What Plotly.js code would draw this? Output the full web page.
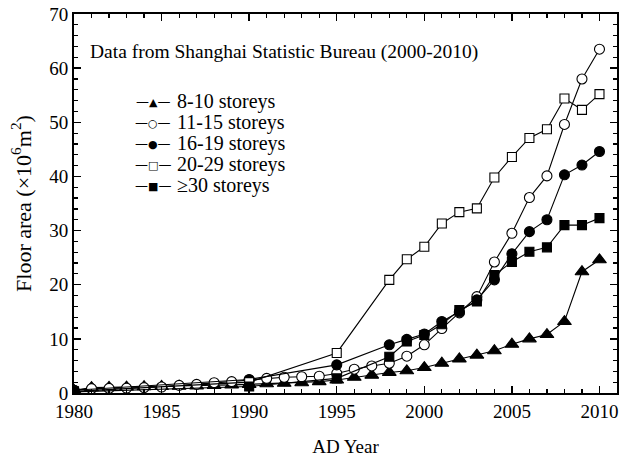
<!DOCTYPE html>
<html>
<head>
<meta charset="utf-8">
<script src="https://cdn.plot.ly/plotly-3.0.1.min.js"></script>
<style>html,body{margin:0;padding:0;background:#fff}</style>
</head>
<body>
<div id="chart" style="width:621px;height:463px"></div>
<script>
// Annual series
const yearsAnnual = [1980,1981,1982,1983,1984,1985,1986,1987,1988,1989,1990,1991,1992,1993,1994,1995,1996,1997,1998,1999,2000,2001,2002,2003,2004,2005,2006,2007,2008,2009,2010];
const s8_10 = [0.5,1.0,1.05,1.1,1.15,1.2,1.25,1.3,1.4,1.5,1.6,1.7,1.8,1.9,2.1,2.4,2.9,3.3,3.8,4.1,4.7,5.5,6.3,7.0,7.8,9.0,10.0,10.8,13.2,22.4,24.6];
const s11_15 = [0.5,0.8,0.85,0.9,1.0,1.1,1.4,1.6,1.9,2.1,2.4,2.7,2.9,3.0,3.1,3.6,4.4,5.0,5.5,6.8,8.9,11.9,14.8,17.8,24.2,29.5,36.1,40.1,49.6,58.0,63.5];
// Sparse series
const yearsSparse = [1980,1990,1995,1998,1999,2000,2001,2002,2003,2004,2005,2006,2007,2008,2009,2010];
const s16_19 = [0.5,2.5,5.2,8.9,9.9,10.9,13.2,15.0,17.2,20.9,25.7,29.8,32.0,40.3,42.1,44.6];
const s20_29 = [0.3,2.0,7.4,20.9,24.7,27.0,31.3,33.4,34.1,39.8,43.6,47.1,48.7,54.4,52.3,55.2];
const s30plus = [0.2,1.2,2.7,6.7,9.5,10.7,12.7,15.3,16.9,21.8,24.2,26.1,26.9,31.0,31.0,32.3];

const seriesNames = ['8-10 storeys','11-15 storeys','16-19 storeys','20-29 storeys','\u226530 storeys'];
const legendGlyphs = ['\u25B2','\u25CB','\u25CF','\u25A1','\u25A0'];
const xTickVals = [1980,1985,1990,1995,2000,2005,2010];
const yTickVals = [0,10,20,30,40,50,60,70];

const FONT = 'Liberation Serif, Times New Roman, serif';
function tr(x, y, name, symbol, fill, size) {
  return {
    x: x, y: y, name: name, type: 'scatter', mode: 'lines+markers',
    line: {color: '#000', width: 1.1},
    marker: {symbol: symbol, size: size, color: fill, line: {color: '#000', width: 1.1}}
  };
}
const data = [
  tr(yearsAnnual, s8_10, seriesNames[0], 'triangle-up', '#000', 12),
  tr(yearsAnnual, s11_15, seriesNames[1], 'circle', '#fff', 10),
  tr(yearsSparse, s16_19, seriesNames[2], 'circle', '#000', 10),
  tr(yearsSparse, s20_29, seriesNames[3], 'square', '#fff', 9),
  tr(yearsSparse, s30plus, seriesNames[4], 'square', '#000', 9)
];

// Legend drawn as text rows (tight row spacing like the reference)
const annotations = [{
  text: 'Data from Shanghai Statistic Bureau (2000-2010)',
  xref: 'paper', yref: 'paper', x: 0.026, y: 0.90, xanchor: 'left', yanchor: 'middle',
  showarrow: false, font: {family: FONT, size: 19.5}
}];
const rowTop = 0.769, rowStep = 0.0556;
seriesNames.forEach(function(n, i) {
  const y = rowTop - i * rowStep;
  annotations.push({
    text: '\u2014<span style="font-size:11px">' + legendGlyphs[i] + '</span>\u2014',
    xref: 'paper', yref: 'paper', x: 0.1455, y: y, xanchor: 'center', yanchor: 'middle',
    showarrow: false, font: {family: 'DejaVu Sans, sans-serif', size: 13}
  });
  annotations.push({
    text: n,
    xref: 'paper', yref: 'paper', x: 0.186, y: y, xanchor: 'left', yanchor: 'middle',
    showarrow: false, font: {family: FONT, size: 20}
  });
});

const layout = {
  width: 621, height: 463,
  margin: {l: 74, r: 4, t: 14, b: 70},
  paper_bgcolor: '#fff', plot_bgcolor: '#fff',
  font: {family: FONT, size: 19, color: '#000'},
  showlegend: false,
  xaxis: {
    range: [1980, 2011], tickvals: xTickVals, ticktext: xTickVals.map(String),
    ticks: 'inside', ticklen: 7, tickwidth: 1.5, tickcolor: '#000',
    minor: {dtick: 1, tick0: 1980, ticks: 'inside', ticklen: 4, tickwidth: 1.2, tickcolor: '#000'},
    showline: true, linewidth: 2, linecolor: '#000', mirror: 'ticks',
    showgrid: false, zeroline: false,
    tickfont: {family: FONT, size: 19},
    title: {text: 'AD Year', font: {family: FONT, size: 19}, standoff: 19}
  },
  yaxis: {
    range: [0, 70], tickvals: yTickVals, ticktext: yTickVals.map(String),
    ticks: 'inside', ticklen: 7, tickwidth: 1.5, tickcolor: '#000',
    minor: {dtick: 2, tick0: 0, ticks: 'inside', ticklen: 4, tickwidth: 1.2, tickcolor: '#000'},
    showline: true, linewidth: 2, linecolor: '#000', mirror: 'ticks',
    showgrid: false, zeroline: false,
    tickfont: {family: FONT, size: 19},
    title: {text: 'Floor area (\u00d710<sup>6</sup>m<sup>2</sup>)', font: {family: FONT, size: 22}, standoff: 12}
  },
  annotations: annotations
};

Plotly.newPlot('chart', data, layout, {displayModeBar: false, staticPlot: true});
</script>
</body>
</html>
